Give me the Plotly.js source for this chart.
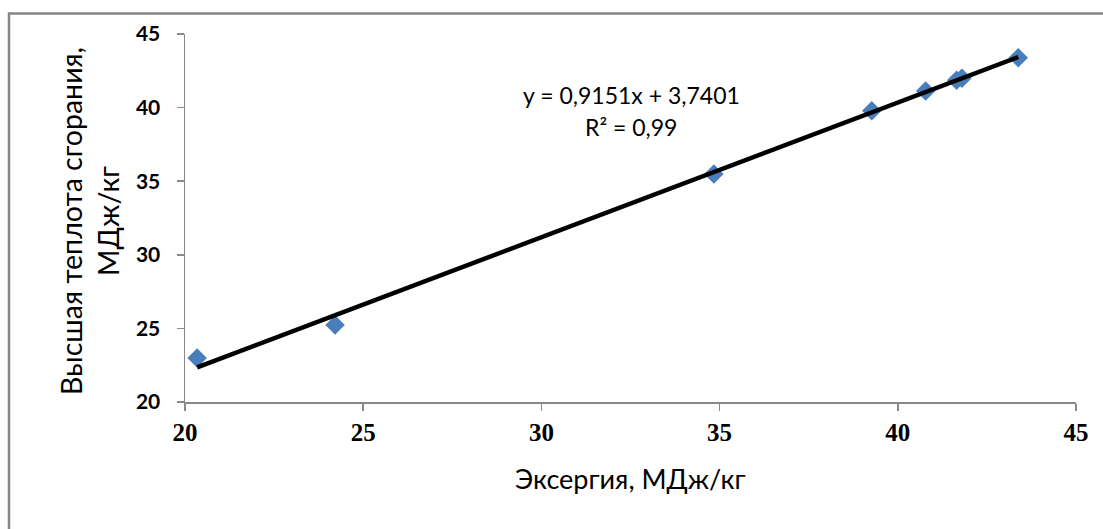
<!DOCTYPE html>
<html>
<head>
<meta charset="utf-8">
<script src="https://cdn.plot.ly/plotly-3.0.1.min.js"></script>
<style>html,body{margin:0;padding:0;background:#fff;}#chart{width:1103px;height:529px;}</style>
</head>
<body>
<div id="chart"></div>
<script>
// Data
const exergy = [20.34, 24.21, 34.84, 39.27, 40.78, 41.65, 41.8, 43.38];
const heatValue = [22.99, 25.23, 35.49, 39.79, 41.13, 41.85, 42.0, 43.39];
const trendSlope = 0.9151;
const trendIntercept = 3.7401;
const equationText = "y = 0,9151x + 3,7401";
const r2Text = "R² = 0,99";
const xTicks = [20, 25, 30, 35, 40, 45];
const yTicks = [20, 25, 30, 35, 40, 45];
const xTitle = "Эксергия, МДж/кг";
const yTitle = "Высшая теплота сгорания,<br>МДж/кг";

const xMin = Math.min(...exergy), xMax = Math.max(...exergy);
const trendX = [xMin, xMax];
const trendY = trendX.map(v => trendSlope * v + trendIntercept);

const axisColor = '#898989';
const sans = 'Lato, "Open Sans", sans-serif';
const titleFont = {family: sans, size: 27, color: '#000'};

const data = [
  {x: exergy, y: heatValue, type: 'scatter', mode: 'markers',
   marker: {symbol: 'diamond', size: 15, color: '#4A7EBB'}, showlegend: false, hoverinfo: 'skip'},
  {x: trendX, y: trendY, type: 'scatter', mode: 'lines',
   line: {color: '#000', width: 4.5}, showlegend: false, hoverinfo: 'skip'}
];

const layout = {
  width: 1103, height: 529,
  margin: {l: 185, r: 27, t: 34, b: 127},
  paper_bgcolor: '#fff', plot_bgcolor: '#fff',
  showlegend: false,
  xaxis: {
    range: [20, 45], tickvals: xTicks, ticktext: xTicks.map(String),
    showgrid: false, zeroline: false, showline: true, linecolor: axisColor, linewidth: 1.5,
    ticks: 'outside', ticklen: 7, tickwidth: 1.5, tickcolor: axisColor,
    tickfont: {family: '"Liberation Serif", "Times New Roman", serif', size: 25, color: '#000', weight: 'bold'},
    fixedrange: true
  },
  yaxis: {
    range: [20, 45], tickvals: yTicks, ticktext: yTicks.map(String),
    showgrid: false, zeroline: false, showline: true, linecolor: axisColor, linewidth: 1.5,
    ticks: 'outside', ticklen: 7, tickwidth: 1.5, tickcolor: axisColor,
    ticklabelstandoff: 12,
    tickfont: {family: sans, size: 21, color: '#000', weight: 'bold'},
    fixedrange: true
  },
  annotations: [
    {xref: 'paper', yref: 'paper', x: (631 - 185) / 891, y: (402 - 95) / 368,
     text: equationText, showarrow: false, xanchor: 'center', yanchor: 'middle',
     font: {family: sans, size: 23, color: '#000'}},
    {xref: 'paper', yref: 'paper', x: (631 - 185) / 891, y: (402 - 127) / 368,
     text: r2Text, showarrow: false, xanchor: 'center', yanchor: 'middle',
     font: {family: sans, size: 23, color: '#000'}},
    {xref: 'paper', yref: 'paper', x: 0.5, y: (402 - 478) / 368,
     text: xTitle, showarrow: false, xanchor: 'center', yanchor: 'middle', font: titleFont},
    {xref: 'paper', yref: 'paper', x: (89 - 185) / 891, y: (402 - 221) / 368,
     text: yTitle, showarrow: false, xanchor: 'center', yanchor: 'middle', textangle: -90,
     font: {family: sans, size: 28.5, color: '#000'}}
  ],
  shapes: [
    {type: 'rect', xref: 'paper', yref: 'paper',
     x0: (9 - 185) / 891, x1: 1.2, y0: -0.6, y1: (402 - 13.5) / 368,
     line: {color: '#878787', width: 2.5}, fillcolor: 'rgba(0,0,0,0)', layer: 'below'}
  ]
};

Plotly.newPlot('chart', data, layout, {staticPlot: true});
</script>
</body>
</html>
